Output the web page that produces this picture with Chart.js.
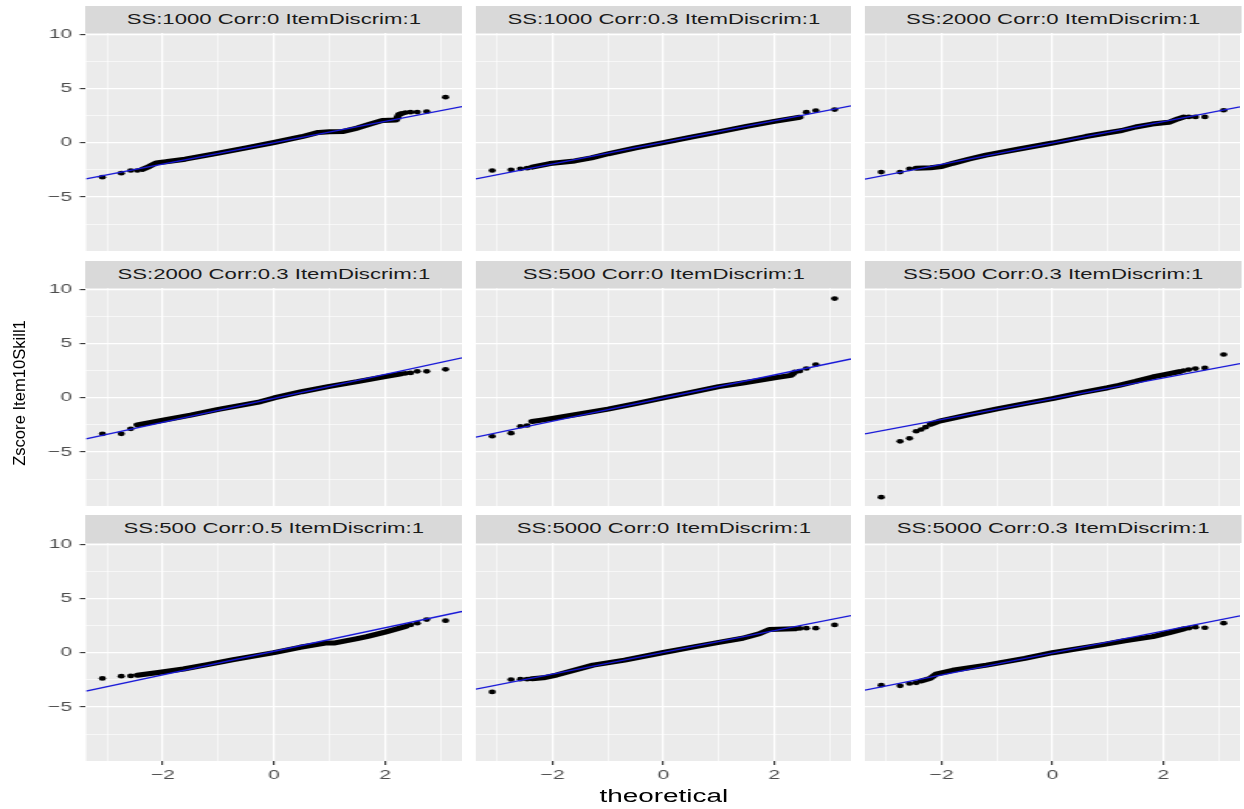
<!DOCTYPE html>
<html>
<head>
<meta charset="utf-8">
<script src="https://cdn.jsdelivr.net/npm/chart.js@4.4.1/dist/chart.umd.min.js"></script>
<style>
  html, body { margin: 0; padding: 0; background: #ffffff; width: 1244px; height: 809px; overflow: hidden; }
  #stage { position: absolute; left: 0; top: 0; width: 802.6px; height: 809px; transform: scaleX(1.55); transform-origin: 0 0; }
  #stage canvas { position: absolute; }
  .strip { position: absolute; background: #D9D9D9; color: #1A1A1A; font-family: "Liberation Sans", Arial, Helvetica, sans-serif; font-size: 14.3px; text-align: center; white-space: nowrap; }
  .xtitle { position: absolute; color: #000; font-family: "Liberation Sans", Arial, Helvetica, sans-serif; font-size: 18px; line-height: 18px; text-align: center; white-space: nowrap; }
  #ytitle { position: absolute; left: -80.5px; top: 383.3px; width: 200px; height: 20px; line-height: 20px; transform: rotate(-90deg); color: #000; font-family: "Liberation Sans", Arial, Helvetica, sans-serif; font-size: 16.6px; text-align: center; white-space: nowrap; }
</style>
</head>
<body>
<div id="stage"></div>
<div id="ytitle">Zscore Item10Skill1</div>
<script>
// ---------------- data ----------------
const stripLabels = [
  "SS:1000 Corr:0 ItemDiscrim:1", "SS:1000 Corr:0.3 ItemDiscrim:1", "SS:2000 Corr:0 ItemDiscrim:1",
  "SS:2000 Corr:0.3 ItemDiscrim:1", "SS:500 Corr:0 ItemDiscrim:1", "SS:500 Corr:0.3 ItemDiscrim:1",
  "SS:500 Corr:0.5 ItemDiscrim:1", "SS:5000 Corr:0 ItemDiscrim:1", "SS:5000 Corr:0.3 ItemDiscrim:1"
];
const xAxisTitle = "theoretical";
const xTickValues = [-3, -2, -1, 0, 1, 2, 3];
const xTickLabels = { "-2": "\u22122", "0": "0", "2": "2" };
const yTickValues = [-7.5, -5, -2.5, 0, 2.5, 5, 7.5, 10];
const yTickLabels = { "-5": "\u22125", "0": "0", "5": "5", "10": "10" };
const xLimits = [-3.385, 3.385];
const yLimits = [-9.98, 10.11];

// panel 1: SS:1000 Corr:0
const tails1 = [[-3.09,-3.18],[-2.75,-2.81],[-2.58,-2.56],[-2.46,-2.56],[2.37,2.78],[2.46,2.81],[2.58,2.82],[2.75,2.87],[3.09,4.2]];
const body1  = [[-2.37,-2.45],[-2.25,-2.2],[-2.12,-1.86],[-1.95,-1.76],[-1.6,-1.52],[-1.0,-0.96],[-0.5,-0.48],[0,0.02],[0.5,0.55],[0.8,0.95],[1.0,1.0],[1.25,1.04],[1.5,1.35],[1.75,1.75],[1.95,2.05],[2.2,2.1],[2.25,2.6],[2.3,2.68]];
const line1  = [[-3.385,-3.33],[3.385,3.33]];
// panel 2: SS:1000 Corr:0.3
const tails2 = [[-3.09,-2.56],[-2.75,-2.5],[-2.58,-2.41],[-2.46,-2.35],[2.58,2.81],[2.75,2.96],[3.09,3.05]];
const body2  = [[-2.37,-2.25],[-2.05,-1.92],[-1.6,-1.68],[-1.3,-1.4],[-1.0,-1.02],[-0.5,-0.47],[0,0.0],[0.5,0.52],[1.0,1.0],[1.5,1.5],[2.0,1.96],[2.46,2.35]];
const line2  = [[-3.385,-3.33],[3.385,3.40]];
// panel 3: SS:2000 Corr:0
const tails3 = [[-3.09,-2.71],[-2.75,-2.71],[-2.58,-2.41],[2.46,2.38],[2.58,2.38],[2.75,2.38],[3.09,2.99]];
const body3  = [[-2.46,-2.35],[-2.2,-2.3],[-2.0,-2.2],[-1.8,-1.9],[-1.5,-1.5],[-1.2,-1.15],[-0.6,-0.58],[0,-0.03],[0.6,0.57],[1.0,0.92],[1.25,1.12],[1.5,1.45],[1.8,1.72],[2.1,1.88],[2.26,2.19],[2.37,2.36]];
const line3  = [[-3.385,-3.36],[3.385,3.30]];
// panel 4: SS:2000 Corr:0.3
const tails4 = [[-3.09,-3.33],[-2.75,-3.33],[-2.58,-2.87],[2.37,2.25],[2.46,2.28],[2.58,2.43],[2.75,2.43],[3.09,2.62]];
const body4  = [[-2.46,-2.5],[-2.0,-2.08],[-1.5,-1.6],[-1.0,-1.08],[-0.5,-0.62],[-0.25,-0.38],[0,-0.02],[0.5,0.55],[1.0,1.05],[1.5,1.48],[2.0,1.95],[2.29,2.2]];
const line4  = [[-3.385,-3.8],[3.385,3.67]];
// panel 5: SS:500 Corr:0
const tails5 = [[-3.09,-3.55],[-2.75,-3.27],[-2.58,-2.63],[-2.46,-2.56],[2.46,2.45],[2.58,2.69],[2.75,3.05],[3.09,9.14]];
const body5  = [[-2.37,-2.19],[-2.17,-2.04],[-1.57,-1.55],[-1.0,-1.05],[-0.5,-0.55],[0,-0.02],[0.5,0.5],[1.0,1.02],[1.43,1.35],[2.03,1.85],[2.3,2.06],[2.37,2.35]];
const line5  = [[-3.385,-3.64],[3.385,3.57]];
// panel 6: SS:500 Corr:0.3
const tails6 = [[-3.09,-9.17],[-2.75,-4.02],[-2.58,-3.74],[-2.46,-3.09],[-2.37,-2.93],[-2.29,-2.72],[2.37,2.5],[2.46,2.59],[2.58,2.68],[2.75,2.74],[3.09,3.98]];
const body6  = [[-2.2,-2.45],[-2.04,-2.16],[-1.5,-1.55],[-1.0,-1.03],[-0.5,-0.55],[0,-0.08],[0.5,0.45],[1.0,0.92],[1.2,1.14],[1.5,1.5],[1.81,1.91],[2.0,2.1],[2.29,2.4]];
const line6  = [[-3.385,-3.33],[3.385,3.15]];
// panel 7: SS:500 Corr:0.5
const tails7 = [[-3.09,-2.37],[-2.75,-2.16],[-2.58,-2.14],[2.46,2.56],[2.58,2.72],[2.75,3.05],[3.09,2.95]];
const body7  = [[-2.46,-2.08],[-2.05,-1.8],[-1.63,-1.5],[-1.2,-1.1],[-0.73,-0.64],[0,0.0],[0.47,0.5],[0.95,0.9],[1.1,0.9],[1.5,1.3],[1.67,1.48],[2.0,1.9],[2.37,2.42]];
const line7  = [[-3.385,-3.55],[3.385,3.8]];
// panel 8: SS:5000 Corr:0
const tails8 = [[-3.09,-3.61],[-2.75,-2.47],[-2.58,-2.44],[-2.46,-2.44],[2.46,2.24],[2.58,2.26],[2.75,2.26],[3.09,2.56]];
const body8  = [[-2.37,-2.4],[-2.17,-2.31],[-1.93,-2.06],[-1.27,-1.14],[-0.7,-0.68],[0,0.02],[0.5,0.5],[1.0,0.95],[1.43,1.33],[1.73,1.75],[1.91,2.14],[2.37,2.2]];
const line8  = [[-3.385,-3.36],[3.385,3.42]];
// panel 9: SS:5000 Corr:0.3
const tails9 = [[-3.09,-2.99],[-2.75,-3.05],[-2.58,-2.84],[-2.46,-2.78],[2.46,2.26],[2.58,2.35],[2.75,2.3],[3.09,2.72]];
const body9  = [[-2.37,-2.6],[-2.2,-2.35],[-2.1,-1.97],[-1.8,-1.62],[-1.19,-1.14],[-0.5,-0.52],[0,0.0],[0.91,0.75],[1.3,1.1],[1.81,1.48],[2.11,1.85],[2.37,2.2]];
const line9  = [[-3.385,-3.45],[3.385,3.4]];

// ---------------- layout (design px, stage is stretched horizontally) ----------------
const S = 1.55;
const panelLeft = [86 / S, 476 / S, 865.3 / S];
const panelW = 375.7 / S;
const panelTop = [33.3, 288.3, 542.7];
const panelH = 218;
const stripH = 27.3;
const yAxisW = panelLeft[0];
const xAxisH = 32;
const topPad = 9;
const FONT = '"Liberation Sans", Arial, Helvetica, sans-serif';

const allTails = [tails1, tails2, tails3, tails4, tails5, tails6, tails7, tails8, tails9];
const allBodies = [body1, body2, body3, body4, body5, body6, body7, body8, body9];
const allLines = [line1, line2, line3, line4, line5, line6, line7, line8, line9];
const toXY = arr => arr.map(p => ({ x: p[0], y: p[1] }));

const panelBg = {
  id: 'panelBg',
  beforeDraw(chart) {
    const { ctx, chartArea: a } = chart;
    ctx.save();
    ctx.fillStyle = '#EBEBEB';
    ctx.fillRect(a.left, a.top, a.right - a.left, a.bottom - a.top);
    ctx.restore();
  }
};

const stage = document.getElementById('stage');

function zeroPad(s) { s.paddingTop = 0; s.paddingBottom = 0; s.paddingLeft = 0; s.paddingRight = 0; }

for (let i = 0; i < 9; i++) {
  const r = Math.floor(i / 3), c = i % 3;
  const showY = c === 0, showX = r === 2;

  const left = showY ? 0 : panelLeft[c];
  const w = showY ? Math.round(panelLeft[0] + panelW) : Math.round(panelW);
  const pad = showY ? topPad : 0;
  const h = panelH + pad + (showX ? xAxisH : 0);
  const cv = document.createElement('canvas');
  cv.width = w; cv.height = h;
  cv.style.left = left + 'px';
  cv.style.top = (panelTop[r] - pad) + 'px';
  cv.style.width = w + 'px';
  cv.style.height = h + 'px';
  stage.appendChild(cv);

  const strip = document.createElement('div');
  strip.className = 'strip';
  strip.style.left = panelLeft[c] + 'px';
  strip.style.width = panelW + 'px';
  strip.style.top = (panelTop[r] - stripH) + 'px';
  strip.style.height = stripH + 'px';
  strip.style.lineHeight = stripH + 'px';
  strip.textContent = stripLabels[i];
  stage.appendChild(strip);

  new Chart(cv, {
    type: 'scatter',
    data: {
      datasets: [
        { data: toXY(allLines[i]), showLine: true, borderColor: '#1818D8', borderWidth: 1.3, pointRadius: 0, fill: false },
        { data: toXY(allBodies[i]), showLine: true, borderColor: '#000000', borderWidth: 5, borderCapStyle: 'round', borderJoinStyle: 'round', pointRadius: 0, fill: false },
        { data: toXY(allTails[i]), showLine: false, pointRadius: 2.35, pointBackgroundColor: '#000000', pointBorderWidth: 0, backgroundColor: '#000000' }
      ]
    },
    options: {
      responsive: false,
      animation: false,
      events: [],
      layout: { padding: { top: pad, left: 0, right: 0, bottom: 0 }, autoPadding: false },
      plugins: { legend: { display: false }, tooltip: { enabled: false }, title: { display: false } },
      scales: {
        x: {
          type: 'linear', min: xLimits[0], max: xLimits[1],
          afterBuildTicks: s => { s.ticks = xTickValues.map(v => ({ value: v })); },
          afterFit: s => { s.height = showX ? xAxisH : 0; zeroPad(s); },
          border: { display: false },
          grid: {
            color: '#FFFFFF',
            lineWidth: ctx => (ctx.tick && ctx.tick.value % 2 === 0) ? 1.2 : 0.6,
            drawTicks: showX, tickLength: 4, tickWidth: 1.1,
            tickColor: ctx => (ctx.tick && ctx.tick.value % 2 === 0) ? '#333333' : 'rgba(0,0,0,0)'
          },
          ticks: {
            display: showX, autoSkip: false, maxRotation: 0, minRotation: 0, padding: 2,
            color: '#4D4D4D', font: { family: FONT, size: 13.5 },
            callback: v => xTickLabels[String(v)] || ''
          }
        },
        y: {
          type: 'linear', min: yLimits[0], max: yLimits[1],
          afterBuildTicks: s => { s.ticks = yTickValues.map(v => ({ value: v })); },
          afterFit: s => { s.width = showY ? yAxisW : 0; zeroPad(s); },
          border: { display: false },
          grid: {
            color: '#FFFFFF',
            lineWidth: ctx => (ctx.tick && ctx.tick.value % 5 === 0) ? 1.2 : 0.6,
            drawTicks: showY, tickLength: 4, tickWidth: 1.1,
            tickColor: ctx => (ctx.tick && ctx.tick.value % 5 === 0) ? '#333333' : 'rgba(0,0,0,0)'
          },
          ticks: {
            display: showY, autoSkip: false, padding: 5,
            color: '#4D4D4D', font: { family: FONT, size: 13.5 },
            callback: v => yTickLabels[String(v)] || ''
          }
        }
      }
    },
    plugins: [panelBg]
  });
}

const xt = document.createElement('div');
xt.className = 'xtitle';
xt.style.left = (panelLeft[1] + panelW / 2 - 100) + 'px';
xt.style.width = '200px';
xt.style.top = '786.5px';
xt.textContent = xAxisTitle;
stage.appendChild(xt);
</script>
</body>
</html>
